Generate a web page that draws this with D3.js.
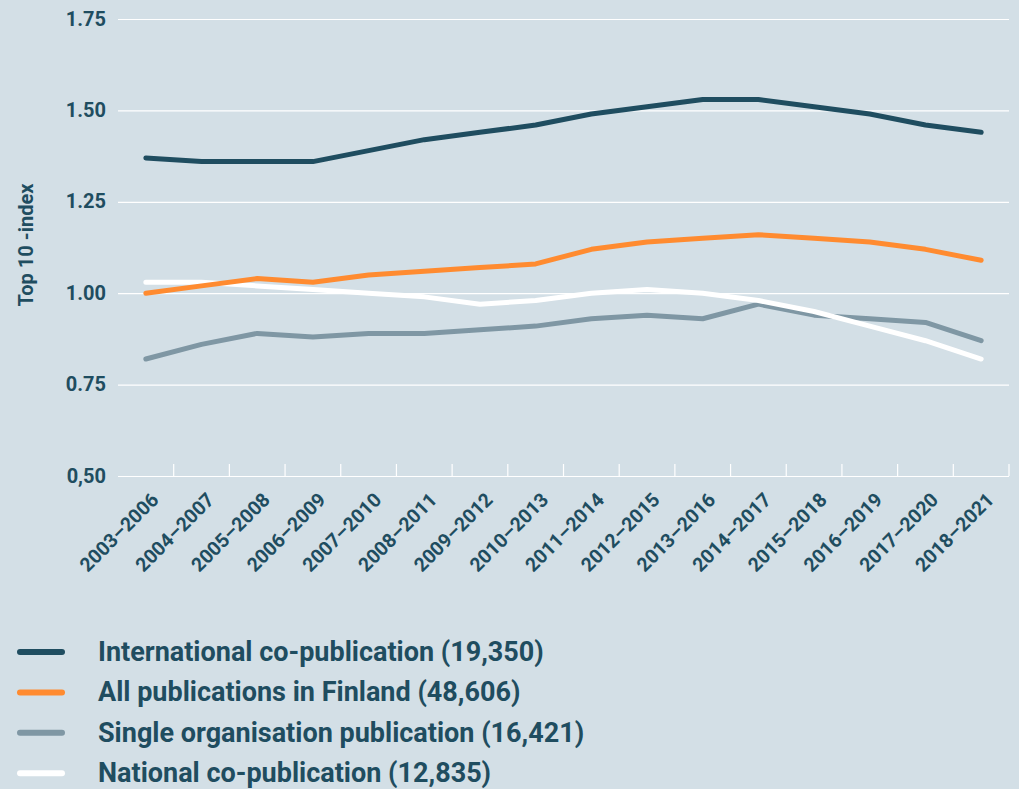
<!DOCTYPE html>
<html lang="en">
<head>
  <meta charset="UTF-8">
  <title>Top 10 -index</title>
  <style>
    body { margin: 0; background: #d3dfe6; }
    svg { display: block; font-family: Roboto, sans-serif; font-weight: 700; }
  </style>
</head>
<body>
  <svg id="svg" width="1019" height="789"></svg>
  <script src="https://d3js.org/d3.v7.min.js"></script>
  <script>
    const periods = ['2003–2006', '2004–2007', '2005–2008', '2006–2009', '2007–2010', '2008–2011',
      '2009–2012', '2010–2013', '2011–2014', '2012–2015', '2013–2016', '2014–2017',
      '2015–2018', '2016–2019', '2017–2020', '2018–2021']

    const international = [1.37, 1.36, 1.36, 1.36, 1.39, 1.42, 1.44, 1.46, 1.49, 1.51, 1.53, 1.53, 1.51, 1.49, 1.46, 1.44]
    const allFinland = [1.00, 1.02, 1.04, 1.03, 1.05, 1.06, 1.07, 1.08, 1.12, 1.14, 1.15, 1.16, 1.15, 1.14, 1.12, 1.09]
    const singleOrg = [0.82, 0.86, 0.89, 0.88, 0.89, 0.89, 0.90, 0.91, 0.93, 0.94, 0.93, 0.97, 0.94, 0.93, 0.92, 0.87]
    const national = [1.03, 1.03, 1.02, 1.01, 1.00, 0.99, 0.97, 0.98, 1.00, 1.01, 1.00, 0.98, 0.95, 0.91, 0.87, 0.82]

    const yTicks = [0.5, 0.75, 1.0, 1.25, 1.5, 1.75]
    const yTickLabels = ['0,50', '0.75', '1.00', '1.25', '1.50', '1.75']

    const seriesNames = ['International co-publication (19,350)', 'All publications in Finland (48,606)',
      'Single organisation publication (16,421)', 'National co-publication (12,835)']
    const seriesColors = ['#1f4d60', '#ff8b30', '#7f97a4', '#ffffff']
    const seriesValues = [international, allFinland, singleOrg, national]

    const textColor = '#1f4d60'
    const svg = d3.select('#svg')

    const x = d3.scaleBand().domain(periods).range([118, 1009])
    const y = d3.scaleLinear().domain([0.5, 1.75]).range([476, 19])

    // y axis with gridlines
    const yAxis = svg.append('g')
      .attr('transform', 'translate(118,0)')
      .call(d3.axisLeft(y).tickValues(yTicks).tickFormat((d, i) => yTickLabels[i])
        .tickSize(-(1009 - 118)).tickPadding(12))
    yAxis.select('.domain').remove()
    yAxis.selectAll('line').attr('stroke', '#ffffff').attr('stroke-width', 1.2)
    yAxis.selectAll('text').attr('fill', textColor).style('font-size', '20px')
      .style('font-family', 'Roboto, sans-serif').style('font-weight', 700)
      .attr('dy', '0.3em')

    // x axis labels
    const xAxis = svg.append('g')
      .attr('transform', 'translate(0,476)')
      .call(d3.axisBottom(x).tickSize(0))
    xAxis.select('.domain').remove()
    xAxis.selectAll('text')
      .attr('fill', textColor)
      .style('font-size', '19.5px')
      .style('font-family', 'Roboto, sans-serif').style('font-weight', 700)
      .attr('text-anchor', 'end')
      .attr('x', 0).attr('dy', 0).attr('y', 0)
      .attr('transform', 'translate(14,25) rotate(-45)')

    // boundary ticks on x axis
    svg.append('g').selectAll('line')
      .data(periods)
      .enter()
      .append('line')
      .attr('x1', d => x(d) + x.bandwidth())
      .attr('x2', d => x(d) + x.bandwidth())
      .attr('y1', 464)
      .attr('y2', 476)
      .attr('stroke', '#ffffff')
      .attr('stroke-width', 1.2)

    // lines (drawn back to front)
    const line = d3.line()
      .x((d, i) => x(periods[i]) + x.bandwidth() / 2)
      .y(d => y(d))
    const drawOrder = [2, 3, 1, 0]
    svg.append('g').selectAll('path')
      .data(drawOrder)
      .enter()
      .append('path')
      .attr('d', k => line(seriesValues[k]))
      .attr('fill', 'none')
      .attr('stroke', k => seriesColors[k])
      .attr('stroke-width', 5)
      .attr('stroke-linecap', 'round')
      .attr('stroke-linejoin', 'round')

    // y axis title
    svg.append('text')
      .attr('transform', 'translate(33,245) rotate(-90)')
      .attr('text-anchor', 'middle')
      .attr('fill', textColor)
      .style('font-size', '20px')
      .text('Top 10 -index')

    // legend
    const legend = svg.append('g').selectAll('g')
      .data(seriesNames)
      .enter()
      .append('g')
      .attr('transform', (d, i) => `translate(0,${652 + i * 40.4})`)
    legend.append('line')
      .attr('x1', 20).attr('x2', 62)
      .attr('y1', 0).attr('y2', 0)
      .attr('stroke', (d, i) => seriesColors[i])
      .attr('stroke-width', 6)
      .attr('stroke-linecap', 'round')
    legend.append('text')
      .attr('x', 98).attr('y', 9)
      .attr('fill', textColor)
      .style('font-size', '27px')
      .text(d => d)
  </script>
</body>
</html>
